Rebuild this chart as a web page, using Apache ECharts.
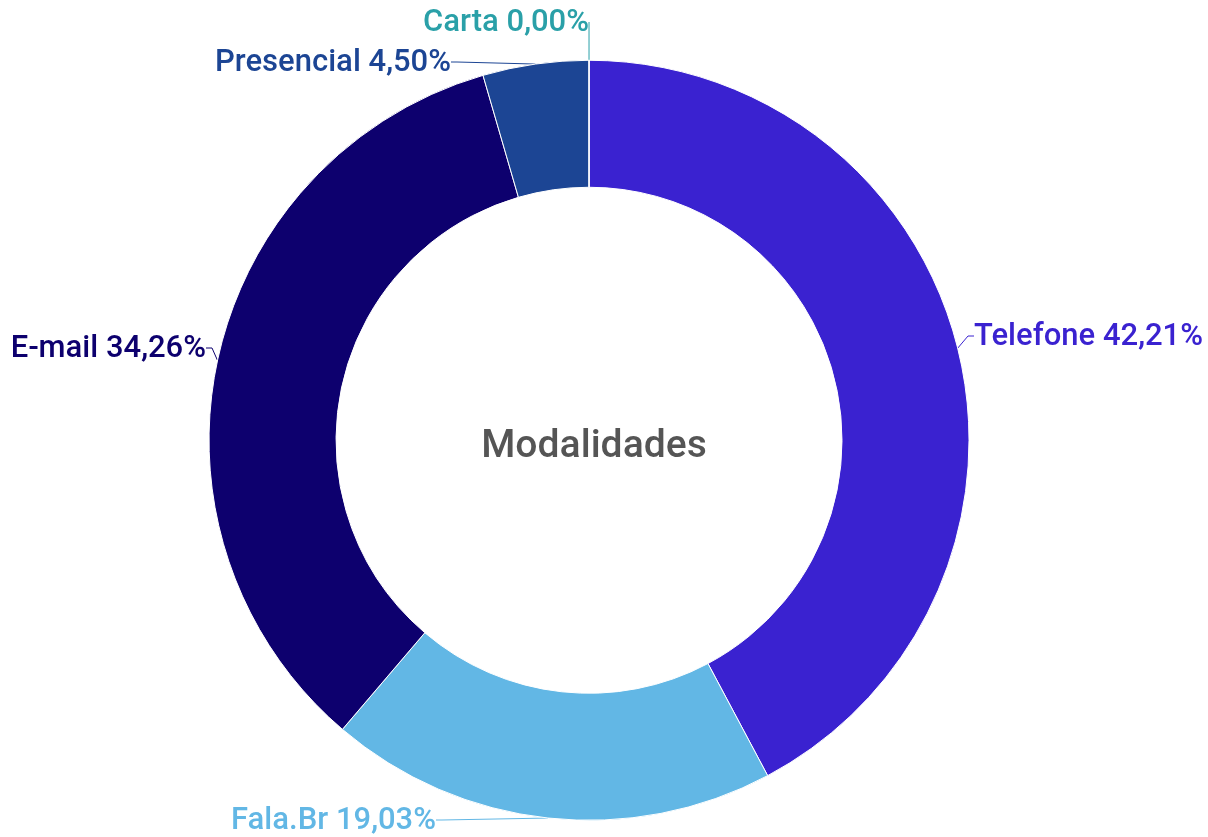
<!DOCTYPE html>
<html>
<head>
<meta charset="utf-8">
<script src="https://cdn.jsdelivr.net/npm/echarts@6/dist/echarts.min.js"></script>
<style>
  html, body { margin: 0; padding: 0; background: #fff; }
  #chart { width: 1208px; height: 837px; }
</style>
</head>
<body>
<div id="chart"></div>
<script>
// categories and values (percent)
const categories = ['Telefone', 'Fala.Br', 'E-mail', 'Presencial', 'Carta']
const values = [42.21, 19.03, 34.26, 4.50, 0.00]
const colors = ['#3a22d0', '#62b7e5', '#0d006e', '#1c4594', '#2aa0a8']
const centerTitle = 'Modalidades'

// label placement (anchor x, y, alignment) in pixels
const labelPlace = [
  { x: 974, y: 336, align: 'left' },
  { x: 436, y: 820, align: 'right' },
  { x: 206, y: 348, align: 'right' },
  { x: 451, y: 62, align: 'right' },
  { x: 589, y: 22, align: 'right' }
]

const chart = echarts.init(document.getElementById('chart'), null, { renderer: 'canvas' })

const data = categories.map((name, i) => ({
  name,
  value: values[i],
  itemStyle: { color: colors[i] },
  label: { color: colors[i] },
  labelLine: { lineStyle: { color: colors[i] } }
}))

const fmt = v => v.toFixed(2).replace('.', ',') + '%'

const option = {
  animation: false,
  title: {
    text: centerTitle,
    left: '48.76%',
    top: '52.6%',
    textAlign: 'center',
    textVerticalAlign: 'middle',
    textStyle: {
      fontFamily: '"Roboto Medium", Roboto',
      fontWeight: 'normal',
      fontSize: 39,
      color: '#555555'
    }
  },
  series: [
    {
      type: 'pie',
      center: ['48.76%', '52.6%'],
      radius: [253, 380],
      startAngle: 90,
      clockwise: true,
      stillShowZeroSum: true,
      itemStyle: { borderColor: '#fff', borderWidth: 1 },
      label: {
        show: true,
        formatter: p => p.name + ' ' + fmt(p.value),
        fontFamily: '"Roboto Medium", Roboto',
        fontWeight: 'normal',
        fontSize: 31,
        overflow: 'none'
      },
      labelLine: {
        show: true,
        length: 8,
        length2: 6,
        lineStyle: { width: 1 }
      },
      labelLayout: p => {
        const s = labelPlace[p.dataIndex]
        return { x: s.x, y: s.y, align: s.align, verticalAlign: 'middle' }
      },
      data
    }
  ]
}

chart.setOption(option)
</script>
</body>
</html>
